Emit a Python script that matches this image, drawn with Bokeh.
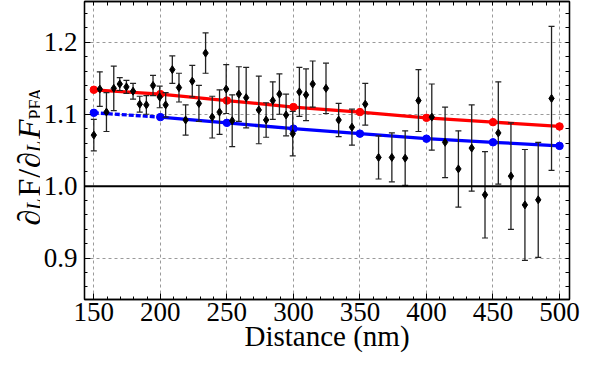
import numpy as np
from bokeh.plotting import figure
from bokeh.layouts import row
from bokeh.models import (Range1d, LinearAxis, Span, SingleIntervalTicker, FixedTicker,
                          PrintfTickFormatter, Grid)
from bokeh.core.properties import value
from bokeh.embed import file_html
from bokeh.resources import INLINE

# Experimental data (distance in nm, force-gradient ratio, error)
distance = [150, 154.5, 159.5, 165, 169.5, 174.5, 179.5, 184.5, 189.5, 194.5,
            199.5, 204, 209, 214, 219, 224, 229, 234, 239, 244.5,
            249.5, 254, 259, 264.5, 274, 279.5, 284.5, 289.5, 294.5, 299.5,
            304.5, 309.5, 314.5, 324.5, 334, 344, 354, 364, 374, 384,
            394, 404, 414, 424, 434, 444, 454, 463.5, 474, 484, 494]
ratio = [1.071, 1.135, 1.103, 1.136, 1.142, 1.138, 1.132, 1.114, 1.113, 1.140,
         1.124, 1.113, 1.162, 1.137, 1.092, 1.146, 1.115, 1.185, 1.096, 1.103,
         1.135, 1.091, 1.128, 1.123, 1.106, 1.092, 1.119, 1.128, 1.099, 1.073,
         1.131, 1.127, 1.142, 1.136, 1.092, 1.082, 1.114, 1.040, 1.040, 1.039,
         1.119, 1.096, 1.061, 1.024, 1.053, 0.988, 1.074, 1.014, 0.974, 0.981,
         1.122]
error = [0.022, 0.024, 0.027, 0.031, 0.009, 0.009, 0.011, 0.011, 0.013, 0.014,
         0.015, 0.017, 0.019, 0.020, 0.021, 0.022, 0.025, 0.028, 0.029, 0.031,
         0.034, 0.036, 0.038, 0.042, 0.047, 0.024, 0.026, 0.028, 0.029, 0.031,
         0.034, 0.036, 0.032, 0.035, 0.023, 0.025, 0.029, 0.030, 0.034, 0.038,
         0.043, 0.046, 0.049, 0.053, 0.060, 0.060, 0.071, 0.074, 0.077, 0.080,
         0.100]

# Theory curves
theory_d = [150, 200, 250, 300, 350, 400, 450, 500]
theory_red = [1.134, 1.128, 1.119, 1.110, 1.103, 1.095, 1.089, 1.083]
theory_blue = [1.102, 1.096, 1.088, 1.080, 1.073, 1.066, 1.061, 1.056]

FONT = "Liberation Serif"
H = 355
yrange = Range1d(0.8425, 1.2567)

p = figure(width=542, height=H, output_backend="svg", toolbar_location=None,
           x_range=Range1d(143, 507.5), y_range=yrange,
           min_border_left=43, min_border_right=13, min_border_top=1,
           min_border_bottom=56, x_axis_type=None, y_axis_type=None)
p.background_fill_color = "white"
p.border_fill_color = "white"
p.outline_line_color = "black"
p.outline_line_width = 1.3


def style_axis(ax):
    ax.axis_line_color = "black"
    ax.axis_line_width = 1.3
    ax.major_tick_in = 6
    ax.major_tick_out = 0
    ax.minor_tick_in = 3
    ax.minor_tick_out = 0
    ax.major_tick_line_color = "black"
    ax.minor_tick_line_color = "black"
    ax.major_label_text_font = FONT
    ax.major_label_text_font_size = "27px"
    ax.major_label_text_color = "black"


xt = SingleIntervalTicker(interval=50, num_minor_ticks=5)
yt = SingleIntervalTicker(interval=0.1, num_minor_ticks=5)

xb = LinearAxis(ticker=xt)
style_axis(xb)
xb.major_label_standoff = 3
xb.axis_label = "Distance (nm)"
xb.axis_label_text_font = FONT
xb.axis_label_text_font_size = "29px"
xb.axis_label_text_font_style = "normal"
xb.axis_label_text_color = "black"
xb.axis_label_standoff = -4
p.add_layout(xb, "below")

yl = LinearAxis(ticker=yt, formatter=PrintfTickFormatter(format="%.1f"))
style_axis(yl)
yl.major_label_standoff = 7
p.add_layout(yl, "left")

# mirrored tick marks on the top and right edges (no labels)
xa = LinearAxis(ticker=FixedTicker(ticks=[], minor_ticks=list(np.arange(150, 501, 10))))
style_axis(xa)
xa.minor_tick_in = 4
xa.major_label_standoff = 0
p.add_layout(xa, "above")

yr = LinearAxis(ticker=FixedTicker(ticks=[], minor_ticks=list(np.round(np.arange(0.86, 1.25, 0.02), 2))))
style_axis(yr)
yr.minor_tick_in = 4
yr.major_label_standoff = 0
p.add_layout(yr, "right")

gx = Grid(dimension=0, ticker=xt, grid_line_color="#9a9a9a", grid_line_dash="3 3", grid_line_width=1)
gy = Grid(dimension=1, ticker=yt, grid_line_color="#9a9a9a", grid_line_dash="3 3", grid_line_width=1)
p.add_layout(gx)
p.add_layout(gy)

p.add_layout(Span(location=1.0, dimension="width", line_color="black", line_width=2))

# theory curves
p.line(theory_d, theory_red, line_color="#ff0000", line_width=3.3)
p.scatter(theory_d, theory_red, size=7.5, color="#ff0000")
p.line(theory_d[:2], theory_blue[:2], line_color="#0000ff", line_width=3.3, line_dash="5 2")
p.line(theory_d[1:], theory_blue[1:], line_color="#0000ff", line_width=3.3)
p.scatter(theory_d, theory_blue, size=7.5, color="#0000ff")

# experimental data with error bars
r = np.array(ratio)
e = np.array(error)
top = r + e
bot = r - e
p.segment(distance, bot, distance, top, line_color="#222222", line_width=1.3)
p.scatter(distance, top, marker="dash", size=6, line_color="#222222", line_width=1.2)
p.scatter(distance, bot, marker="dash", size=6, line_color="#222222", line_width=1.2)
p.scatter(distance, ratio, marker="diamond", size=8, color="black")

# rotated y-axis title  ∂_L F / ∂_L F_PFA  in a narrow side panel that shares
# the vertical scale of the main plot
lab = figure(width=40, height=H, output_backend="svg", toolbar_location=None,
             x_range=Range1d(0, 40), y_range=yrange,
             min_border_left=0, min_border_right=0, min_border_top=1,
             min_border_bottom=56, x_axis_location=None, y_axis_location=None)
lab.outline_line_color = None
lab.grid.visible = False
lab.background_fill_color = "white"
lab.border_fill_color = "white"


def piece(xs, ys, texts, size, style):
    lab.text(x=xs, y=ys, text=texts, angle=np.pi / 2, text_align=value("left"),
             text_baseline=value("alphabetic"), text_font=value(FONT),
             text_font_size=value(size), text_font_style=value(style),
             text_color="black")


piece([28, 28, 28, 28], [0.9453, 0.9855, 1.0116, 1.0254], ["∂", "F", "/", "∂"], "32px", "normal")
piece([28], [1.0656], ["F"], "32px", "italic")
piece([33, 33], [0.9673, 1.0474], ["L", "L"], "20px", "italic")
piece([35], [1.0928], ["PFA"], "18px", "normal")

layout = row(lab, p, spacing=0)
open("out.html", "w").write(file_html(layout, INLINE))
